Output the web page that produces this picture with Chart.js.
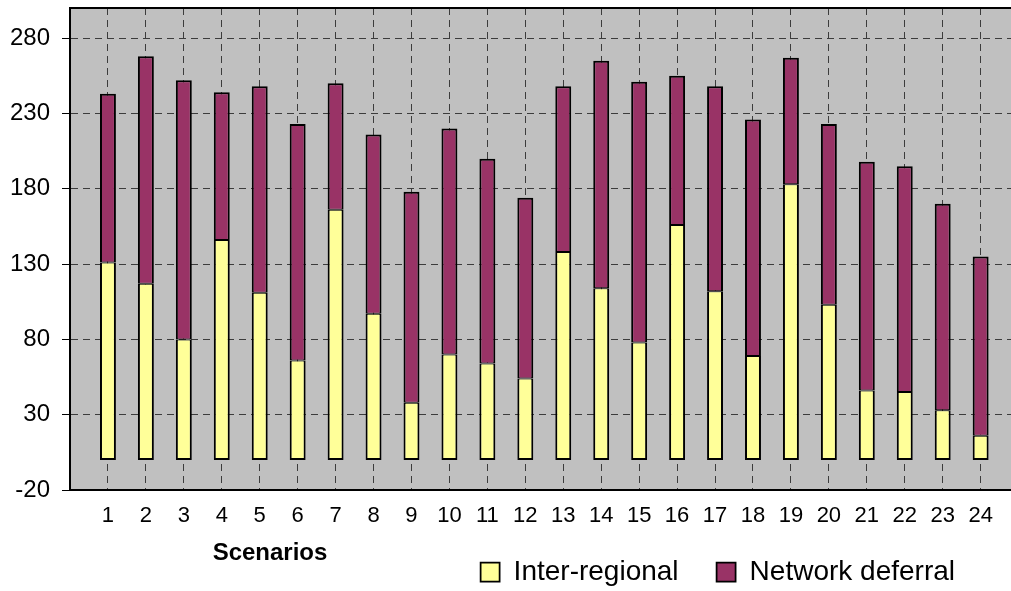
<!DOCTYPE html>
<html>
<head>
<meta charset="utf-8">
<script src="https://cdn.jsdelivr.net/npm/chart.js@4/dist/chart.umd.min.js"></script>
<style>
  html, body { margin: 0; padding: 0; background: #fff; }
  #wrap { width: 1011px; height: 591px; }
</style>
</head>
<body>
<div id="wrap"><canvas id="grafica"></canvas></div>
<script>
// datos
const escenarios = ["1","2","3","4","5","6","7","8","9","10","11","12","13","14","15","16","17","18","19","20","21","22","23","24"];
const interRegional = [131, 117, 80, 146, 111, 66, 166, 97, 38, 70, 64, 54, 138, 114, 78, 156, 112, 69, 183, 103, 46, 45, 33, 16];
const networkDeferral = [112, 151, 172, 98, 137, 157, 84, 119, 140, 150, 136, 120, 110, 151, 173, 99, 136, 157, 84, 120, 152, 150, 137, 119];
const yTicks = [-20, 30, 80, 130, 180, 230, 280];

const fuente = "'Liberation Sans', Arial, sans-serif";

// fondo gris y borde superior del area
const marco = {
  id: "marco",
  beforeDraw(chart) {
    const { ctx, chartArea: a } = chart;
    ctx.save();
    ctx.fillStyle = "#c0c0c0";
    ctx.fillRect(a.left, a.top, a.right - a.left, a.bottom - a.top);
    ctx.restore();
  },
  afterLayout(chart) {
    // mover la leyenda un poco a la izquierda
    chart.legend.right -= 18;
    // que no se corten las etiquetas del eje x
    chart.scales.x.bottom += 12;
  },
  afterDraw(chart) {
    const { ctx, chartArea: a } = chart;
    ctx.save();
    ctx.strokeStyle = "#000";
    ctx.lineWidth = 2;
    ctx.beginPath();
    ctx.moveTo(a.left, a.top);
    ctx.lineTo(a.right, a.top);
    ctx.stroke();
    // titulo del eje x
    ctx.fillStyle = "#000";
    ctx.font = "bold 24px " + fuente;
    ctx.textAlign = "center";
    ctx.textBaseline = "middle";
    ctx.fillText("Scenarios", a.left + 200, a.bottom + 63);
    ctx.restore();
  }
};

const puntos = (arr) => arr.map((v, i) => ({ x: i + 1, y: v }));

new Chart(document.getElementById("grafica"), {
  type: "bar",
  data: {
    datasets: [
      {
        label: "Inter-regional",
        data: puntos(interRegional),
        backgroundColor: "#ffff99",
        borderColor: "#000",
        borderWidth: { top: 1, left: 2, right: 2, bottom: 2 },
        borderSkipped: false
      },
      {
        label: "Network deferral",
        data: puntos(networkDeferral),
        backgroundColor: "#993366",
        borderColor: "#000",
        borderWidth: { top: 2, left: 2, right: 2, bottom: 1 },
        borderSkipped: false
      }
    ]
  },
  options: {
    responsive: true,
    maintainAspectRatio: false,
    animation: false,
    categoryPercentage: 1,
    barPercentage: 0.42,
    layout: { padding: { left: 10, top: 8, right: 0, bottom: -5 } },
    plugins: {
      legend: {
        position: "bottom",
        align: "end",
        labels: {
          boxWidth: 19,
          boxHeight: 19,
          padding: 38,
          color: "#000",
          font: { family: fuente, size: 28 }
        }
      },
      tooltip: { enabled: false }
    },
    scales: {
      x: {
        type: "linear",
        stacked: true,
        offset: false,
        min: 0,
        max: 24.8,
        afterBuildTicks: (scale) => {
          scale.ticks = escenarios.map((e, i) => ({ value: i + 1 }));
        },
        afterFit: (scale) => {
          scale.height = 30;
          scale.paddingLeft = 0;
          scale.paddingRight = 0;
        },
        ticks: {
          autoSkip: false,
          maxRotation: 0,
          padding: 13,
          color: "#000",
          font: { family: fuente, size: 22 },
          callback: (v) => escenarios[v - 1] || ""
        },
        grid: {
          offset: false,
          color: "#3c3c3c",
          lineWidth: 1,
          drawTicks: false
        },
        border: { display: true, color: "#000", width: 2, dash: [7, 5] }
      },
      y: {
        stacked: true,
        min: -20,
        max: 300,
        afterBuildTicks: (scale) => {
          scale.ticks = yTicks.map(v => ({ value: v }));
        },
        afterFit: (scale) => {
          scale.width = 60;
          scale.paddingTop = 0;
          scale.paddingBottom = 0;
        },
        ticks: {
          padding: 12,
          color: "#000",
          font: { family: fuente, size: 24 }
        },
        grid: {
          color: (c) => (c.tick && c.tick.value === 0) ? "#333" : "#3c3c3c",
          lineWidth: (c) => (c.tick && c.tick.value === 0) ? 1.5 : 1,
          tickLength: 8,
          tickColor: "#000",
          tickBorderDash: []
        },
        border: {
          display: true,
          color: "#000",
          width: 2,
          dash: (c) => (c.tick && c.tick.value === 0) ? [] : [7, 5]
        }
      }
    }
  },
  plugins: [marco]
});
</script>
</body>
</html>
